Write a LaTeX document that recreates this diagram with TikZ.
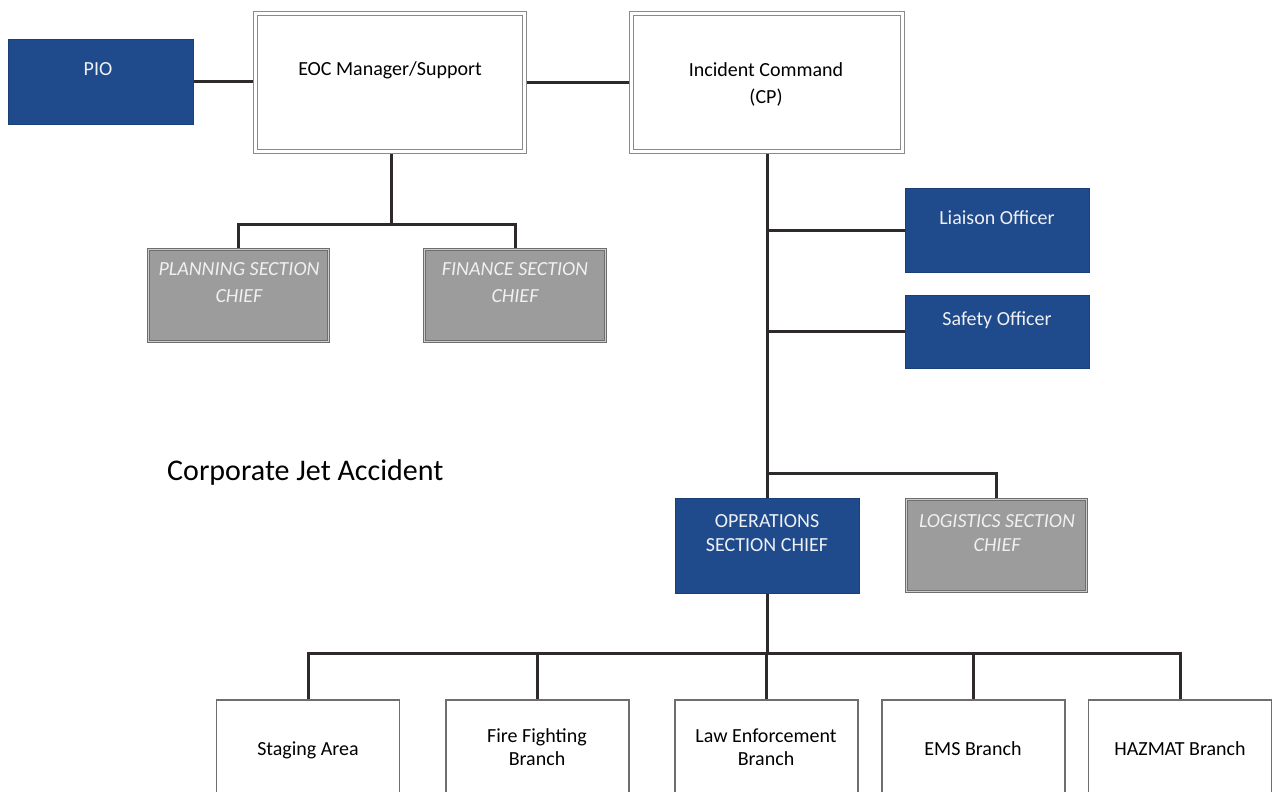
\documentclass[tikz,border=0pt]{standalone}
\usepackage{fontspec}
\setmainfont{Carlito}
\usetikzlibrary{backgrounds}
\definecolor{navy}{HTML}{1F4A8C}
\definecolor{boxgray}{HTML}{9C9C9C}
\definecolor{edgegray}{HTML}{6E6E6E}
\definecolor{linegray}{HTML}{8A8A8A}
\definecolor{conncol}{HTML}{2E2A2A}
\definecolor{paletext}{HTML}{EEF0F4}
\definecolor{graytext}{HTML}{F0F0F0}
\begin{document}
\begin{tikzpicture}[x=1pt,y=-1pt,
  base/.style={inner sep=0pt, outer sep=0pt},
  bluebox/.style={base, fill=navy, draw=navy!85!black, line width=0.6pt},
  graybox/.style={base, fill=boxgray, draw=edgegray, double=gray!40, double distance=1.2pt, line width=1pt},
  wbox/.style={base, fill=white, draw=linegray, double=white, double distance=3pt, line width=1.2pt},
  bbox/.style={base, fill=white, draw=edgegray, line width=1.2pt, minimum width=183pt, minimum height=140pt},
  conn/.style={draw=conncol, line width=3pt},
  lbl/.style={font=\fontsize{20}{27}\selectfont, align=center, inner sep=0pt, anchor=base},
  wlbl/.style={lbl, text=paletext},
  glbl/.style={lbl, text=graytext, font=\fontsize{20}{27}\selectfont\itshape}]
\useasboundingbox (0,0) rectangle (1274,792);
\clip (0,0) rectangle (1274,792);

% boxes
\node[bluebox, minimum width=185pt, minimum height=85pt] (pio) at (100.5,81.5) {};
\node[wbox, minimum width=268.6pt, minimum height=137.6pt] (eoc) at (390,82.5) {};
\node[wbox, minimum width=270.6pt, minimum height=137.6pt] (ic) at (767,82.5) {};
\node[graybox, minimum width=179.8pt, minimum height=91.8pt] (plan) at (238.5,295.5) {};
\node[graybox, minimum width=180.8pt, minimum height=91.8pt] (fin) at (515,295.5) {};
\node[bluebox, minimum width=184pt, minimum height=84pt] (lia) at (997,230) {};
\node[bluebox, minimum width=184pt, minimum height=73pt] (saf) at (997,331.5) {};
\node[bluebox, minimum width=184pt, minimum height=95pt] (ops) at (767,545.5) {};
\node[graybox, minimum width=179.8pt, minimum height=91.8pt] (log) at (996.5,545.5) {};
\node[bbox] (stag) at (308,770) {};
\node[bbox] (fire) at (537.5,770) {};
\node[bbox] (law) at (766.5,770) {};
\node[bbox] (ems) at (973.5,770) {};
\node[bbox] (haz) at (1180,770) {};

% labels
\node[wlbl] (pioT) at (98,75) {PIO};
\node[lbl] (eocT) at (390,76) {EOC Manager/Support};
\node[lbl] (icT) at (766,103) {Incident Command\\(CP)};
\node[glbl] (planT) at (239,302) {PLANNING SECTION\\CHIEF};
\node[glbl] (finT) at (515,302) {FINANCE SECTION\\CHIEF};
\node[wlbl] (liaT) at (997,224) {Liaison Officer};
\node[wlbl] (safT) at (997,325) {Safety Officer};
\node[wlbl, font=\fontsize{20}{24}\selectfont] (opsT) at (767,551) {OPERATIONS\\SECTION CHIEF};
\node[glbl, font=\fontsize{20}{24}\selectfont\itshape] (logT) at (997,551) {LOGISTICS SECTION\\CHIEF};
\node[lbl] (stagT) at (308,755) {Staging Area};
\node[lbl, font=\fontsize{20}{23}\selectfont] (fireT) at (537,765) {Fire Fighting\\Branch};
\node[lbl, font=\fontsize{20}{23}\selectfont] (lawT) at (766,765) {Law Enforcement\\Branch};
\node[lbl] (emsT) at (973,755) {EMS Branch};
\node[lbl] (hazT) at (1180,755) {HAZMAT Branch};
\node[font=\fontsize{30}{36}\selectfont, anchor=base west, inner sep=0pt] (title) at (167,480) {Corporate Jet Accident};

% connectors
\coordinate (ebus) at (391,224);
\coordinate (lbus) at (767,473);
\coordinate (bbus) at (767,653);
\begin{scope}[on background layer]
\draw[conn] (pio.east) -- (pio.east -| eoc.west);
\draw[conn] (eoc.east) -- (ic.west);
\draw[conn] (eoc.south -| ebus) -- (ebus);
\draw[conn] (plan.north) |- (ebus) -| (fin.north);
\draw[conn] (ic.south) -- (ops.north);
\draw[conn] (lia.west) -- (lia.west -| ic.south);
\draw[conn] (saf.west) -- (saf.west -| ic.south);
\draw[conn] (lbus) -| (log.north);
\draw[conn] (ops.south) -- (bbus);
\draw[conn] (stag.north) |- (bbus) -| (haz.north);
\draw[conn] (fire.north) -- (fire.north |- bbus);
\draw[conn] (law.north) -- (law.north |- bbus);
\draw[conn] (ems.north) -- (ems.north |- bbus);
\end{scope}
\end{tikzpicture}
\end{document}
